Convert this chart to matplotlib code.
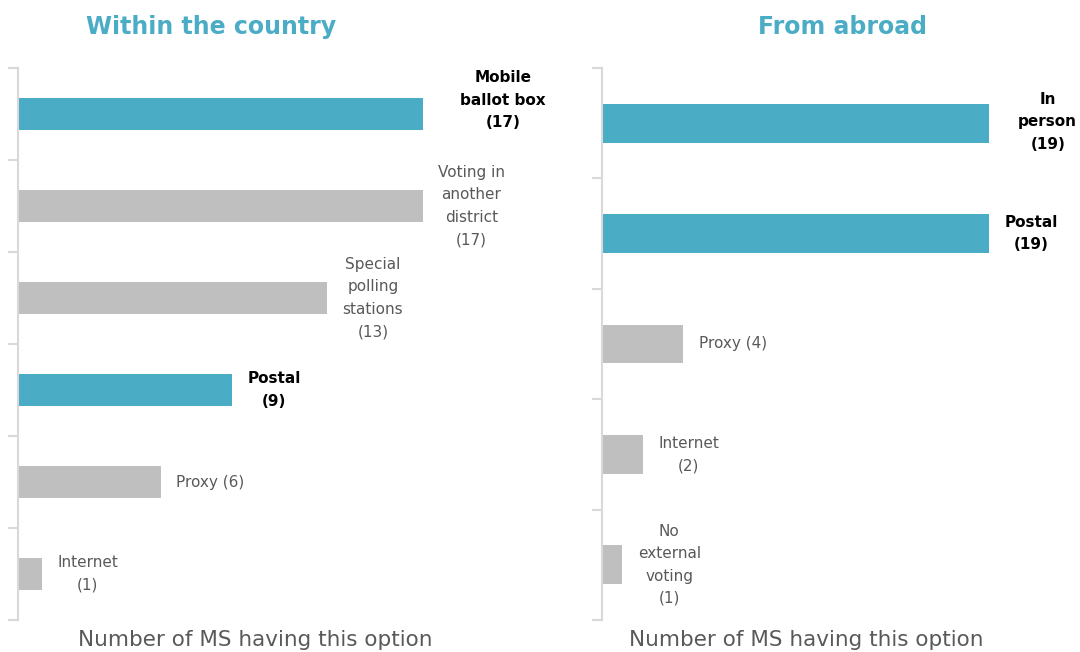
import matplotlib
matplotlib.use("Agg")
import matplotlib.pyplot as plt

# ---- data ----
within_labels = ["Mobile\nballot box\n(17)", "Voting in\nanother\ndistrict\n(17)",
                 "Special\npolling\nstations\n(13)", "Postal\n(9)", "Proxy (6)", "Internet\n(1)"]
within_values = [17, 17, 13, 9, 6, 1]
within_highlight = [True, False, False, True, False, False]

abroad_labels = ["In\nperson\n(19)", "Postal\n(19)", "Proxy (4)", "Internet\n(2)",
                 "No\nexternal\nvoting\n(1)"]
abroad_values = [19, 19, 4, 2, 1]
abroad_highlight = [True, True, False, False, False]

titles = ["Within the country", "From abroad"]
xlabel = "Number of MS having this option"

# ---- style ----
BLUE = "#4BACC6"
GREY = "#BFBFBF"
TEXT = "#595959"
SPINE = "#D9D9D9"
W, H = 1080, 652

fig = plt.figure(figsize=(W / 100, H / 100), dpi=100)

def px_axes(x0, x1, y0, y1):
    return fig.add_axes([x0 / W, 1 - y1 / H, (x1 - x0) / W, (y1 - y0) / H])

def panel(ax, labels, values, highlight, xmax, offsets):
    n = len(values)
    pos = list(range(n))
    colors = [BLUE if h else GREY for h in highlight]
    ax.barh(pos, values, height=0.35, color=colors)
    ax.set_ylim(n - 0.5, -0.5)
    ax.set_xlim(0, xmax)
    for s in ["top", "right", "bottom"]:
        ax.spines[s].set_visible(False)
    ax.spines["left"].set_color(SPINE)
    ax.spines["left"].set_linewidth(1.5)
    ax.set_xticks([])
    ax.set_yticks([i - 0.5 for i in range(n + 1)])
    ax.set_yticklabels([])
    ax.tick_params(axis="y", length=7, width=1.5, color=SPINE, direction="out")
    for i, (lab, v, h) in enumerate(zip(labels, values, highlight)):
        dx, dy = offsets.get(i, (11, 0))
        ax.annotate(lab, xy=(v, i), xytext=(dx, dy), textcoords="offset points",
                    ha="left", va="center", multialignment="center",
                    fontsize=11, color="black" if h else TEXT,
                    fontweight="bold" if h else "normal", linespacing=1.62)

ax1 = px_axes(18, 18 + 23.8 * 22, 68, 620)
panel(ax1, within_labels, within_values, within_highlight, 22, {0: (27, 10)})
ax2 = px_axes(602, 602 + 20.37 * 23, 68, 620)
panel(ax2, abroad_labels, abroad_values, abroad_highlight, 23, {0: (21, 1)})

fig.text(211 / W, 1 - 27 / H, titles[0], ha="center", va="center",
         fontsize=17, fontweight="bold", color=BLUE)
fig.text(843 / W, 1 - 27 / H, titles[1], ha="center", va="center",
         fontsize=17, fontweight="bold", color=BLUE)
fig.text(255 / W, 1 - 640 / H, xlabel, ha="center", va="center", fontsize=15.5, color=TEXT)
fig.text(806 / W, 1 - 640 / H, xlabel, ha="center", va="center", fontsize=15.5, color=TEXT)

fig.savefig("out.png", dpi=100)
